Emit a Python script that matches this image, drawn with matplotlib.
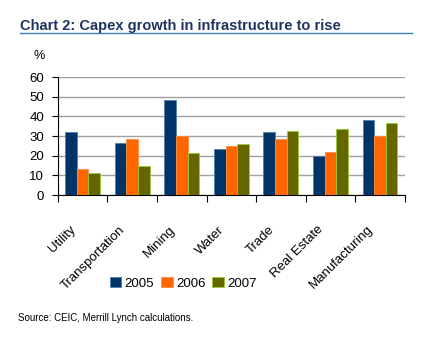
import matplotlib
matplotlib.use("Agg")
import matplotlib.pyplot as plt
import numpy as np
from matplotlib.lines import Line2D

plt.rcParams["font.family"] = ["Liberation Sans", "DejaVu Sans"]

categories = ["Utility", "Transportation", "Mining", "Water", "Trade",
              "Real Estate", "Manufacturing"]
years = ["2005", "2006", "2007"]
v2005 = [32, 26.3, 48.5, 23.2, 32, 20, 38]
v2006 = [13, 28.3, 30.2, 24.7, 28.3, 22, 29.8]
v2007 = [11.3, 15, 21.5, 26.1, 32.8, 33.8, 36.8]
yticks = [0, 10, 20, 30, 40, 50, 60]

colors = ["#003366", "#FF6600", "#666600"]
edges = ["#4F7FB0", "#FF8C40", "#99CC33"]

fig = plt.figure(figsize=(4.32, 3.41), dpi=100)
ax = fig.add_axes([0.134, 0.428, 0.803, 0.346])

x = np.arange(len(categories))
w = 0.235
for k, (vals, c, e) in enumerate(zip([v2005, v2006, v2007], colors, edges)):
    ax.bar(x + (k - 1) * w, vals, width=w, color=c, edgecolor=e,
           linewidth=0.6, label=years[k], zorder=3)

ax.set_xlim(-0.5, len(categories) - 0.5)
ax.set_ylim(0, 60)
ax.set_yticks(yticks)
ax.set_yticklabels([str(t) for t in yticks], fontsize=9.5)
ax.yaxis.grid(True, color="#A0A0A0", linewidth=1.0, zorder=0)
ax.tick_params(axis="y", length=4, width=0.8, pad=6, colors="black")

# category boundary ticks on the x axis
ax.set_xticks(np.arange(len(categories) + 1) - 0.5)
ax.set_xticklabels([])
ax.tick_params(axis="x", length=5, width=0.8, direction="out")
for i, name in enumerate(categories):
    ax.text(i - 0.26, -14.5, name, rotation=45, ha="right", va="top",
            fontsize=9.5, rotation_mode="anchor")

for s in ["top", "right"]:
    ax.spines[s].set_visible(False)
ax.spines["left"].set_color("black")
ax.spines["bottom"].set_color("black")

# title with rule underneath
fig.text(0.046, 0.925, "Chart 2: Capex growth in infrastructure to rise",
         fontsize=10.5, fontweight="bold", color="#1F3560", va="center")
fig.add_artist(Line2D([0.046, 0.953], [0.902, 0.902], color="#3C7FC0",
                      linewidth=1.0))
fig.text(0.078, 0.836, "%", fontsize=9, va="center")

handles, labels = ax.get_legend_handles_labels()
fig.legend(handles, labels, loc="center", bbox_to_anchor=(0.424, 0.17),
           ncol=3, frameon=False, fontsize=9.5, handlelength=0.9,
           handleheight=0.9, handletextpad=0.25, columnspacing=0.5)

fig.text(0.042, 0.067, "Source: CEIC, Merrill Lynch calculations.",
         fontsize=7, va="center")

fig.savefig("out.png", dpi=100)
